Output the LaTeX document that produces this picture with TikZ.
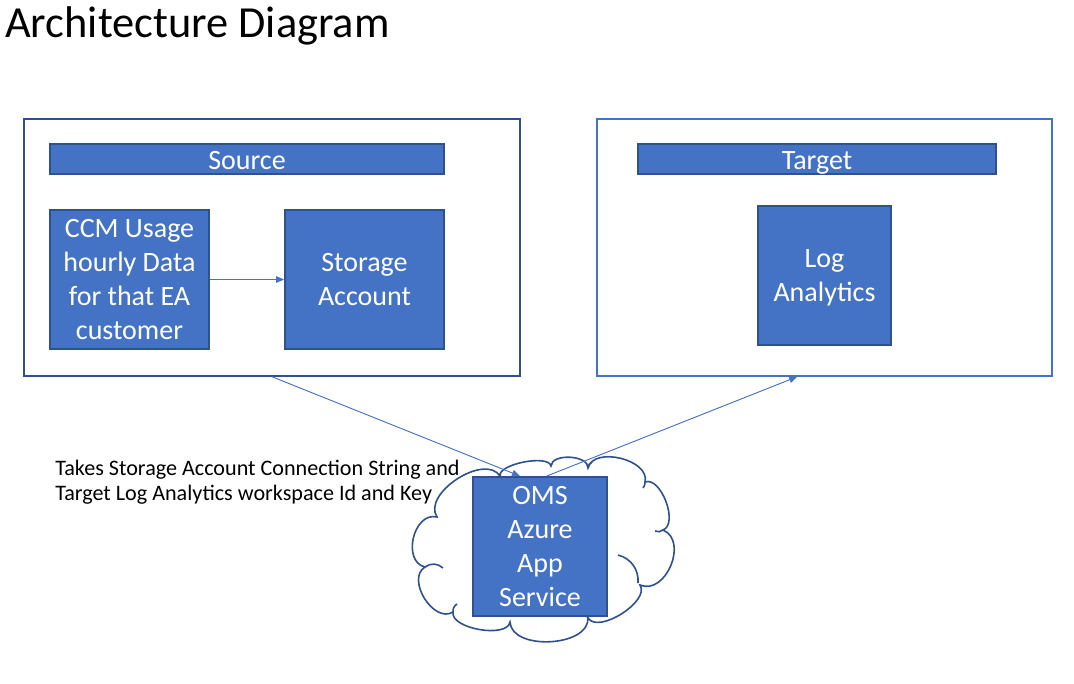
\documentclass[tikz,border=0pt]{standalone}
\usepackage{fontspec}
\setmainfont{Carlito}
\usetikzlibrary{arrows.meta}
\definecolor{boxblue}{HTML}{4472C4}
\definecolor{boxline}{HTML}{2F528F}
\begin{document}
\begin{tikzpicture}[x=0.75pt,y=-0.75pt]
  \tikzset{frame/.style = {draw=boxline,line width=1.1pt,minimum height=192.75pt,inner sep=0pt}}
  \tikzset{bluebox/.style = {draw=boxline,fill=boxblue,line width=1.4pt,text=white,align=center,inner sep=0pt,font=\fontsize{21}{25.5}\selectfont}}
  \tikzset{header/.style = {bluebox,minimum height=22.5pt,text height=18pt,text depth=3pt}}
  \tikzset{block/.style = {bluebox,minimum height=104.25pt,text depth=-3pt}}
  \tikzset{flow/.style = {-{Triangle[length=6pt,width=5pt]},draw=boxblue,line width=0.7pt}}
  \tikzset{puff/.style = {draw=boxline,line width=1.2pt}}

\useasboundingbox (0,0) rectangle (1074,683);

\node[anchor=base west,inner sep=0pt,font=\fontsize{33.3}{38}\selectfont] (title) at (5,37) {Architecture Diagram};

% source side
\node[frame,minimum width=372pt] (source) at (272,247.5) {};
\node[header,minimum width=295.5pt] (srchead) at (247,159) {Source};
\node[block,minimum width=119.25pt] (ccm) at (129.5,279.5) {CCM Usage\\hourly Data\\for that EA\\customer};
\node[block,minimum width=119.25pt] (storage) at (364.5,279.5) {Storage\\Account};

% target side
\node[frame,draw=boxblue,minimum width=341.25pt] (target) at (824.5,247.5) {};
\node[header,minimum width=268.5pt] (tgthead) at (817,159) {Target};
\node[block,minimum width=99.75pt] (loganalytics) at (824.5,275.5) {Log\\Analytics};

% cloud round the app service
\draw[puff,fill=white] (437,517) to[bend left=90,looseness=0.95] (500,476)
  to[bend left=90,looseness=0.6] (551,466) to[bend left=90,looseness=0.9] (588,468)
  to[bend left=90,looseness=1] (645,482) to[bend left=90,looseness=0.85] (663,530)
  to[bend left=90,looseness=1.2] (640,585) to[bend left=90,looseness=0.8] (588,618)
  to[bend left=90,looseness=0.95] (510,622) to[bend left=90,looseness=0.75] (453,612)
  to[bend left=90,looseness=1.1] (425,567) to[bend left=90,looseness=1.2] cycle;
\draw[puff] (500,476) to[bend left=30] (506,484);
\draw[puff] (425,567) to[bend left=40] (443,568);
\draw[puff] (453,612) to[bend left=30] (457,604);
\draw[puff] (588,618) to[bend left=30] (586,605);
\draw[puff] (618,555) to[bend left=40] (638,583);
\draw[puff] (663,530) to[bend left=30] (655,531);
\draw[puff] (588,468) to[bend left=30] (592,462);
\draw[puff] (645,482) to[bend left=20] (643,488);
\node[block,minimum width=100.5pt] (oms) at (540,546.5) {OMS\\Azure\\App\\Service};

\node[anchor=west,align=left,inner sep=0pt,font=\fontsize{16.6}{18.75}\selectfont] (note) at (55,482)
  {Takes Storage Account Connection String and\\Target Log Analytics workspace Id and Key};

\path (ccm) edge[flow] (storage);
\path (source.south) edge[flow] ([xshift=-15pt]oms.north);
\path ([xshift=5pt]oms.north) edge[flow] ([xshift=-20.5pt]target.south);

\end{tikzpicture}
\end{document}
